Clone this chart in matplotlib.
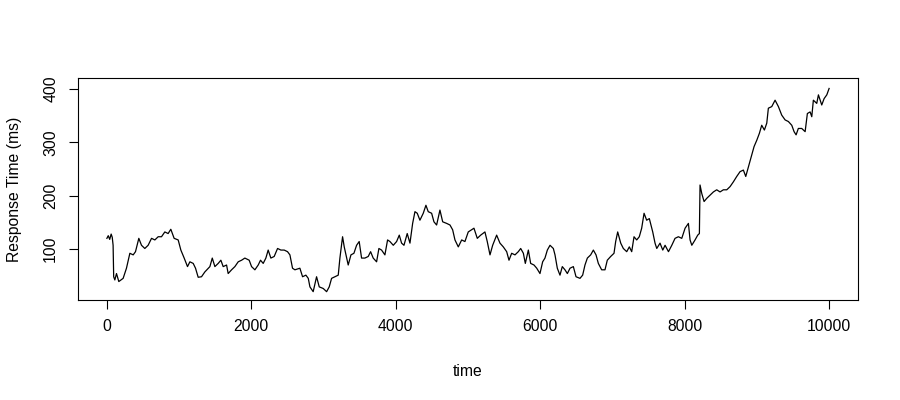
import matplotlib
matplotlib.use("Agg")
import matplotlib.pyplot as plt

plt.rcParams['font.family'] = ['Liberation Sans', 'DejaVu Sans']

time = [1, 20, 40, 60, 75, 87, 95, 111, 134, 166, 226, 272, 319, 365, 397, 443, 480, 526, 572, 619,
        665, 711, 757, 803, 849, 886, 932, 988, 1025, 1071, 1117, 1150, 1196, 1228, 1265, 1311, 1357,
        1427, 1460, 1496, 1542, 1579, 1611, 1658, 1680, 1727, 1773, 1819, 1866, 1911, 1971, 2004, 2050,
        2096, 2128, 2165, 2202, 2234, 2271, 2317, 2364, 2410, 2456, 2502, 2535, 2571, 2604, 2673, 2710,
        2756, 2789, 2812, 2857, 2904, 2941, 2996, 3043, 3079, 3112, 3158, 3204, 3227, 3264, 3287, 3320,
        3342, 3380, 3421, 3458, 3494, 3527, 3573, 3619, 3652, 3688, 3735, 3767, 3804, 3850, 3887, 3920,
        3966, 4012, 4049, 4081, 4114, 4159, 4197, 4234, 4266, 4298, 4335, 4381, 4418, 4450, 4497, 4529,
        4566, 4612, 4650, 4705, 4751, 4788, 4820, 4866, 4913, 4958, 5004, 5083, 5129, 5176, 5235, 5267,
        5305, 5342, 5397, 5443, 5489, 5536, 5568, 5605, 5651, 5697, 5730, 5767, 5794, 5836, 5868, 5914,
        5952, 5997, 6034, 6066, 6099, 6136, 6182, 6205, 6237, 6274, 6306, 6343, 6376, 6413, 6459, 6496,
        6551, 6588, 6620, 6653, 6699, 6736, 6773, 6805, 6851, 6897, 6929, 6976, 7022, 7045, 7073, 7115,
        7151, 7198, 7234, 7267, 7299, 7336, 7372, 7405, 7438, 7474, 7511, 7558, 7590, 7614, 7659, 7697,
        7729, 7776, 7822, 7867, 7913, 7960, 8006, 8052, 8075, 8099, 8144, 8181, 8204, 8213, 8237, 8269,
        8306, 8352, 8398, 8444, 8490, 8536, 8583, 8629, 8675, 8721, 8767, 8813, 8846, 8883, 8929, 8961,
        8999, 9035, 9067, 9104, 9137, 9159, 9206, 9252, 9298, 9344, 9391, 9436, 9483, 9515, 9543, 9574,
        9621, 9668, 9699, 9737, 9760, 9782, 9829, 9852, 9898, 9931, 9968, 10000]

response_ms = [120, 125, 118, 128, 122, 107, 48, 42, 54, 39, 45, 64, 92, 89, 95, 120, 107, 101, 107, 120,
               117, 123, 123, 132, 129, 137, 120, 117, 98, 83, 67, 76, 73, 64, 47, 48, 57,
               67, 83, 67, 73, 79, 67, 70, 54, 61, 67, 76, 79, 83, 79, 67, 61,
               70, 79, 73, 83, 98, 83, 86, 101, 98, 98, 95, 89, 64, 61, 64, 48,
               51, 45, 29, 20, 48, 29, 26, 20, 29, 45, 48, 51, 83, 123, 104, 83,
               70, 89, 92, 107, 114, 83, 83, 86, 95, 83, 76, 101, 98, 89, 117, 114,
               107, 114, 126, 111, 107, 129, 111, 148, 170, 167, 154, 167, 182, 170, 167, 151,
               145, 173, 151, 148, 145, 136, 117, 104, 117, 114, 132, 139, 120, 126, 132, 114,
               89, 107, 126, 111, 104, 95, 79, 92, 89, 95, 101, 92, 73, 98, 73, 70,
               64, 54, 76, 83, 98, 107, 101, 89, 64, 51, 67, 61, 54, 64, 67, 48,
               45, 51, 70, 83, 89, 98, 89, 73, 61, 61, 79, 86, 92, 114, 132, 111,
               101, 95, 104, 95, 123, 117, 123, 139, 167, 154, 157, 132, 111, 101, 111, 98,
               107, 95, 107, 120, 123, 120, 139, 148, 117, 107, 117, 126, 129, 220, 204, 189,
               195, 201, 207, 211, 207, 211, 211, 217, 226, 236, 245, 248, 236, 254, 276, 292,
               304, 317, 332, 323, 336, 364, 367, 379, 367, 351, 342, 339, 332, 320, 314, 326,
               326, 320, 354, 357, 348, 379, 373, 389, 370, 382, 389, 401]

x_ticks = [0, 2000, 4000, 6000, 8000, 10000]
y_ticks = [100, 200, 300, 400]
x_label = "time"
y_label = "Response Time (ms)"

fig = plt.figure(figsize=(9, 4), dpi=100)
ax = fig.add_axes([78/900, 1 - 300/400, 780/900, 222/400])
ax.plot(time, response_ms, color='black', lw=0.9)

ax.set_xlim(-399, 10400)
ax.set_ylim(4.4, 420.6)
ax.set_xticks(x_ticks)
ax.set_yticks(y_ticks)
ax.set_xticklabels([str(v) for v in x_ticks])
ax.set_yticklabels([str(v) for v in y_ticks])

for s in ax.spines.values():
    s.set_linewidth(0.8)
    s.set_color('black')

ax.tick_params(axis='both', length=6.8, width=0.8, color='black', labelsize=11.3, labelcolor='black')
ax.tick_params(axis='x', pad=7)
ax.tick_params(axis='y', pad=7.5, labelrotation=90)
for lbl in ax.get_yticklabels():
    lbl.set_va('center')

ax.set_xlabel(x_label, fontsize=11.3, color='black')
ax.set_ylabel(y_label, fontsize=11.3, color='black')
ax.xaxis.set_label_coords(0.5, -0.288)
ax.yaxis.set_label_coords(-0.082, 0.5)
ax.yaxis.label.set_va('center')

fig.savefig("out.png", dpi=100, facecolor='white')
